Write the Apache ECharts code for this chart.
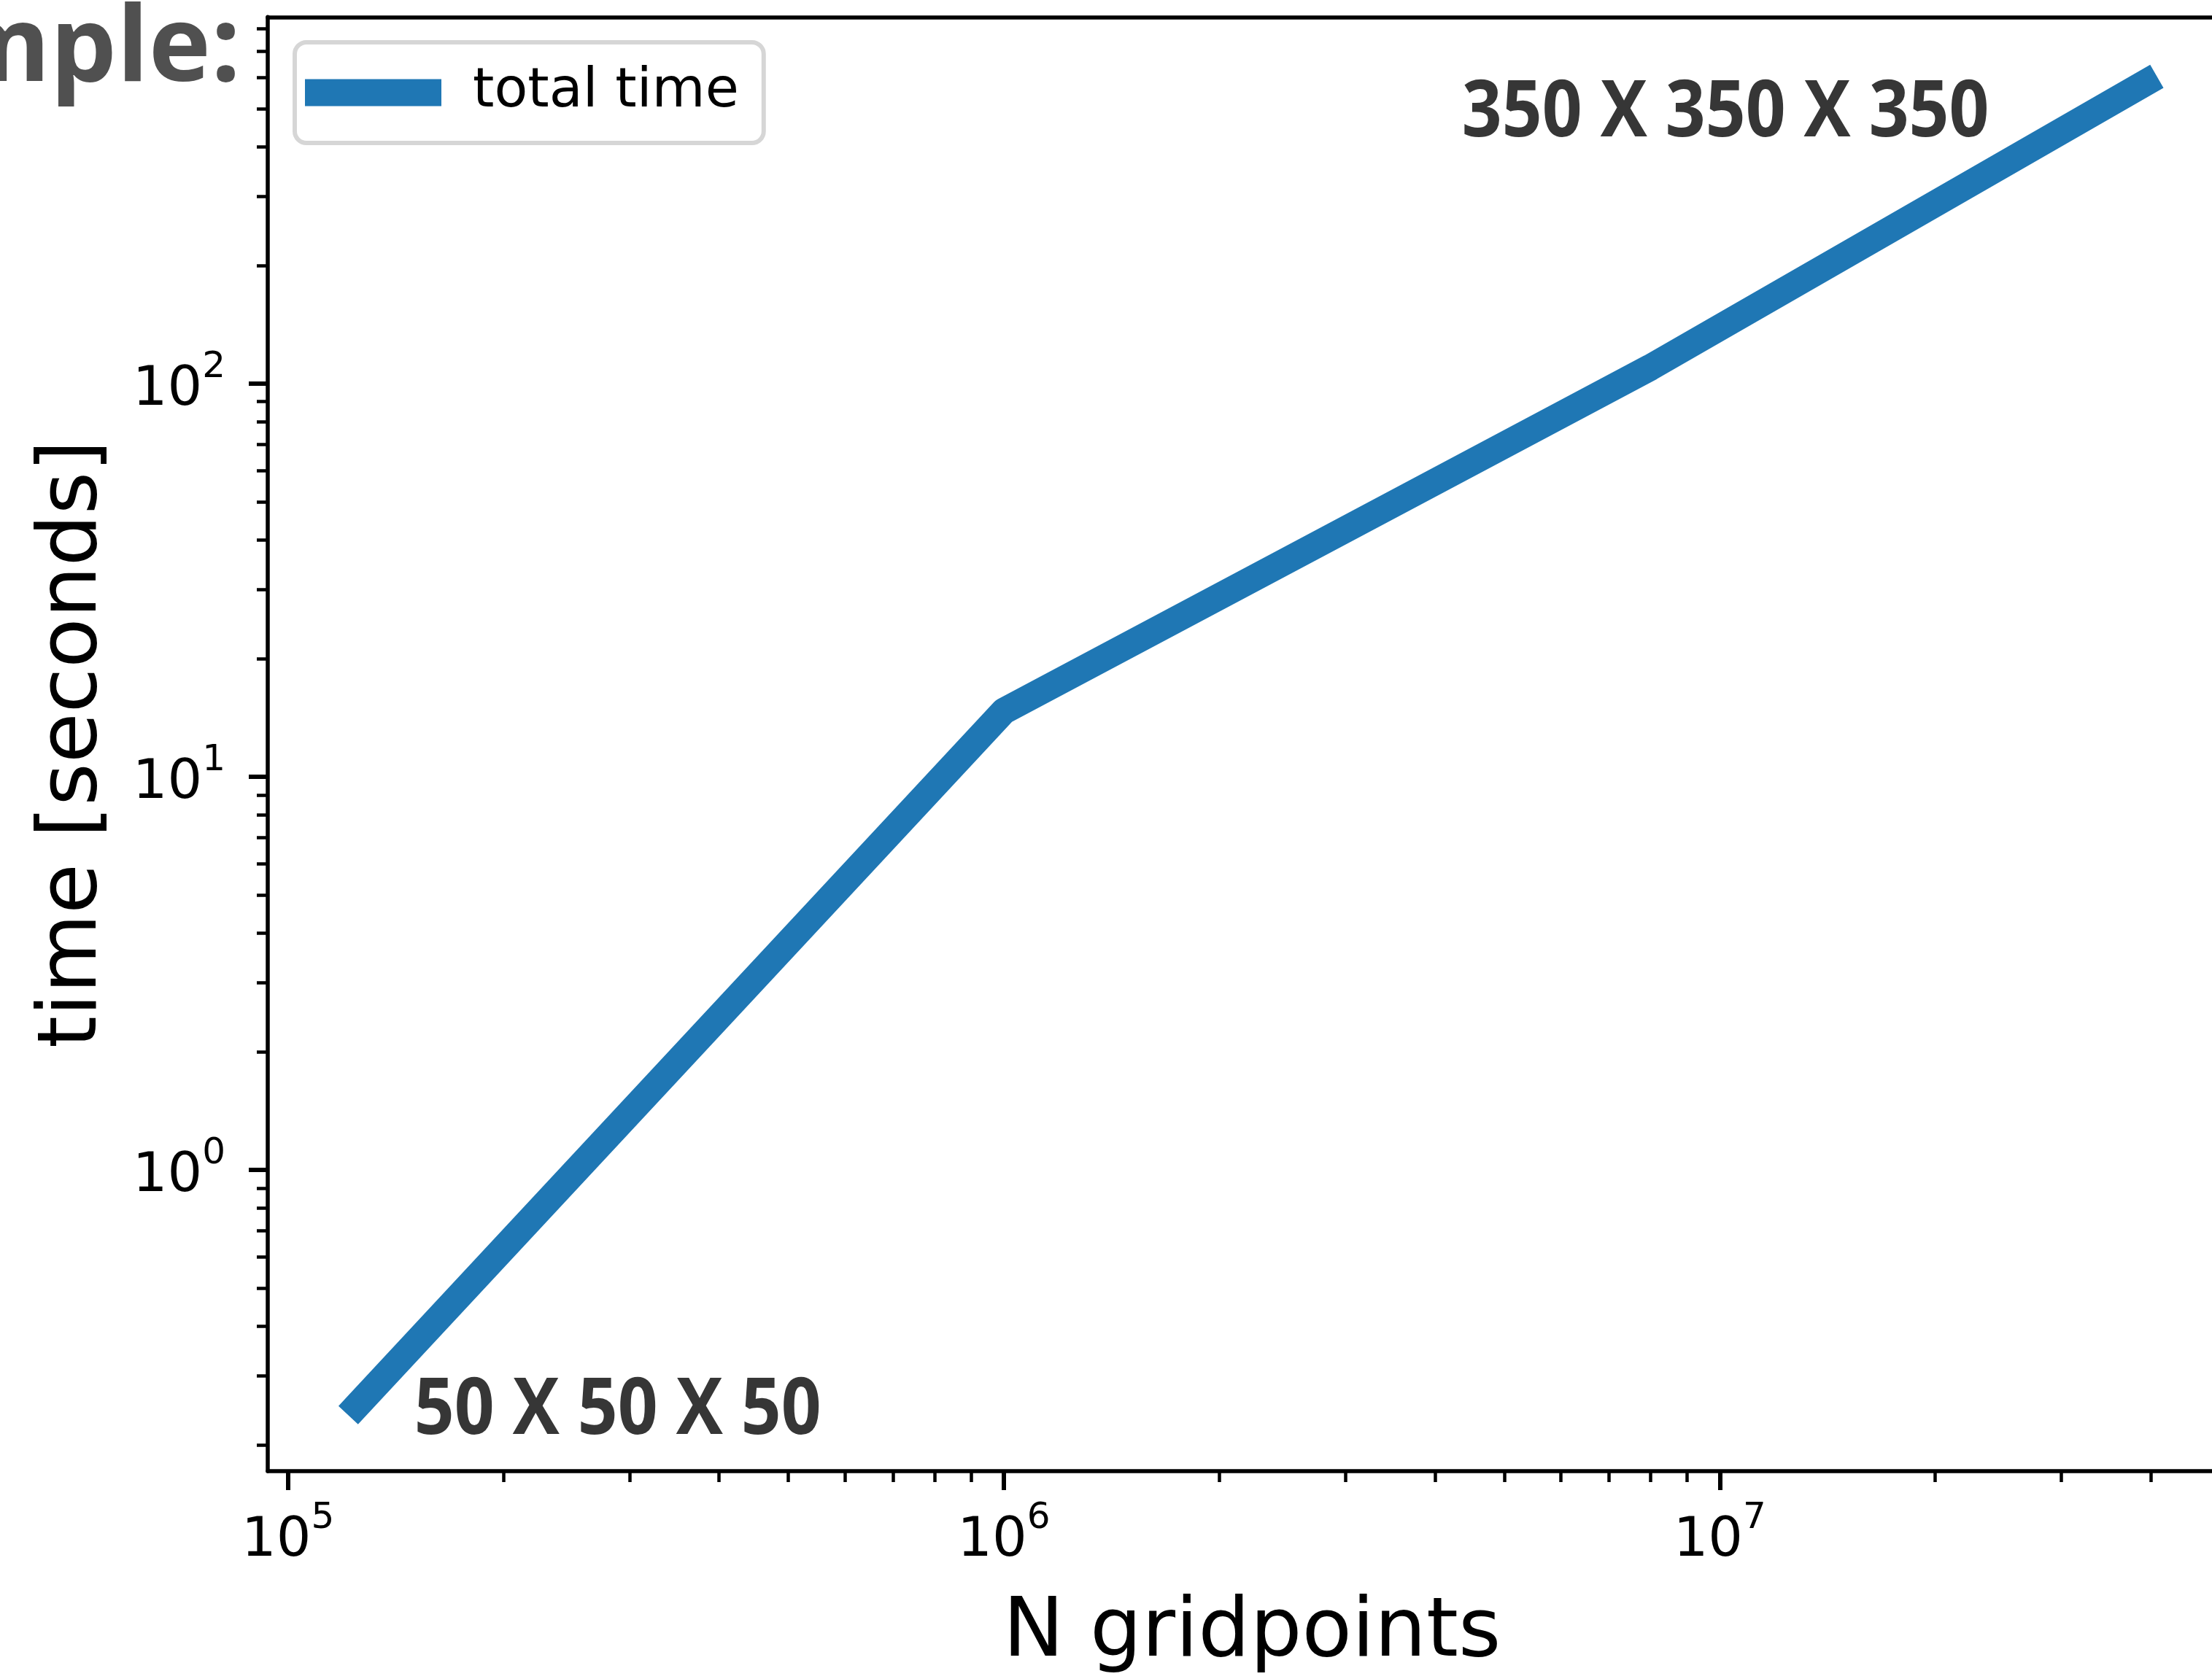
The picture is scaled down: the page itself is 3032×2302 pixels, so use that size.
<!DOCTYPE html>
<html>
<head>
<meta charset="utf-8">
<script src="https://cdn.jsdelivr.net/npm/echarts@6/dist/echarts.min.js"></script>
<style>
  html, body { margin: 0; padding: 0; background: #ffffff; }
  #chart { width: 3032px; height: 2302px; }
</style>
</head>
<body>
<div id="chart"></div>
<script>
// Scaling run: number of grid points (n^3) against total wall-clock time
const gridPoints = [125000, 1000000, 8000000, 39300000];
const totalTime = [0.252, 14.7, 110, 582];
const seriesName = 'total time';
const pointNotes = ['50 X 50 X 50', '', '', '350 X 350 X 350'];

// Axis extents and tick positions (log scale)
const xRange = [93700, 48710000];
const yRange = [0.1714, 856.5];
const xMajorTicks = [1e5, 1e6, 1e7];
const xMinorTicks = [2e5, 3e5, 4e5, 5e5, 6e5, 7e5, 8e5, 9e5,
                     2e6, 3e6, 4e6, 5e6, 6e6, 7e6, 8e6, 9e6,
                     2e7, 3e7, 4e7];
const yMajorTicks = [1, 10, 100];
const yMinorTicks = [0.2, 0.3, 0.4, 0.5, 0.6, 0.7, 0.8, 0.9,
                     2, 3, 4, 5, 6, 7, 8, 9,
                     20, 30, 40, 50, 60, 70, 80, 90,
                     200, 300, 400, 500, 600, 700, 800];

const BLUE = '#1f77b4';
const TICK_FONT = 'DejaVu Sans';

const chart = echarts.init(document.getElementById('chart'), null, { renderer: 'canvas' });

// "10^k" labels drawn as base + raised exponent
const powerLabel = {
  formatter: function (v) {
    const e = Math.round(Math.log10(v));
    return '{b|10}{s|' + e + '}';
  },
  rich: {
    b: { fontFamily: TICK_FONT, fontSize: 75, lineHeight: 94, color: '#000', verticalAlign: 'bottom' },
    s: { fontFamily: TICK_FONT, fontSize: 50, lineHeight: 50, color: '#000', verticalAlign: 'top' }
  }
};

const spine = { show: true, onZero: false, lineStyle: { color: '#000', width: 5.5 } };

const option = {
  animation: false,
  backgroundColor: '#ffffff',
  // the plotting area runs on past the right edge of the page
  grid: { left: 367, top: 23.3, right: 0, bottom: 271.3, containLabel: false },
  legend: {
    data: [{ name: seriesName, icon: 'rect' }],
    left: 404,
    top: 58,
    itemWidth: 187,
    itemHeight: 37,
    padding: [29, 34, 29, 14],
    backgroundColor: '#ffffff',
    borderColor: '#d6d6d6',
    borderWidth: 6,
    borderRadius: 16,
    selectedMode: false,
    textStyle: {
      fontFamily: TICK_FONT, fontSize: 75, lineHeight: 80, color: '#000',
      padding: [0, 0, 0, 38]
    }
  },
  xAxis: [
    {
      type: 'log', logBase: 10, min: xRange[0], max: xRange[1], position: 'bottom',
      axisLine: spine,
      axisTick: { show: true, customValues: xMajorTicks, length: 26, lineStyle: { color: '#000', width: 6 } },
      axisLabel: Object.assign({ show: true, customValues: xMajorTicks, margin: 40 }, powerLabel),
      splitLine: { show: false },
      name: 'N gridpoints',
      nameLocation: 'middle',
      nameGap: 168,
      nameMoveOverlap: false,
      nameTextStyle: {
        fontFamily: TICK_FONT, fontSize: 112, lineHeight: 112, color: '#000',
        padding: [0, 0, 0, 33]
      }
    },
    {
      type: 'log', logBase: 10, min: xRange[0], max: xRange[1], position: 'bottom',
      axisLine: { show: false },
      axisTick: { show: true, customValues: xMinorTicks, length: 15, lineStyle: { color: '#000', width: 4.5 } },
      axisLabel: { show: false },
      splitLine: { show: false }
    },
    {
      type: 'log', logBase: 10, min: xRange[0], max: xRange[1], position: 'top',
      axisLine: spine,
      axisTick: { show: false },
      axisLabel: { show: false },
      splitLine: { show: false }
    }
  ],
  yAxis: [
    {
      type: 'log', logBase: 10, min: yRange[0], max: yRange[1], position: 'left',
      axisLine: spine,
      axisTick: { show: true, customValues: yMajorTicks, length: 26, lineStyle: { color: '#000', width: 6 } },
      axisLabel: Object.assign({ show: true, customValues: yMajorTicks, margin: 58 }, powerLabel),
      splitLine: { show: false },
      name: 'time [seconds]',
      nameLocation: 'middle',
      nameGap: 209,
      nameMoveOverlap: false,
      nameTextStyle: { fontFamily: TICK_FONT, fontSize: 112, lineHeight: 112, color: '#000' }
    },
    {
      type: 'log', logBase: 10, min: yRange[0], max: yRange[1], position: 'left',
      axisLine: { show: false },
      axisTick: { show: true, customValues: yMinorTicks, length: 15, lineStyle: { color: '#000', width: 4.5 } },
      axisLabel: { show: false },
      splitLine: { show: false }
    }
  ],
  series: [
    {
      type: 'line',
      name: seriesName,
      xAxisIndex: 0,
      yAxisIndex: 0,
      data: gridPoints.map((x, i) => [x, totalTime[i]]),
      showSymbol: false,
      symbol: 'none',
      clip: false,
      itemStyle: { color: BLUE },
      lineStyle: { color: BLUE, width: 36.6, cap: 'square', join: 'round' },
      z: 3
    },
    {
      // grid-size annotations next to the first and last runs
      type: 'custom',
      xAxisIndex: 0,
      yAxisIndex: 0,
      clip: false,
      silent: true,
      data: gridPoints.map((x, i) => [x, totalTime[i], i]).filter(d => pointNotes[d[2]] !== ''),
      renderItem: function (params, api) {
        const p = api.coord([api.value(0), api.value(1)]);
        const i = api.value(2);
        const first = i === 0;
        return {
          type: 'text',
          x: first ? p[0] + 78 : p[0] - 214,
          y: first ? p[1] + 8 : p[1] + 42,
          scaleX: 0.89,
          style: {
            text: pointNotes[i],
            fill: '#363636',
            font: 'bold 108px "Open Sans"',
            align: first ? 'left' : 'right',
            verticalAlign: 'middle'
          }
        };
      },
      z: 4
    }
  ],
  graphic: [
    {
      type: 'text',
      x: 330,
      y: 70,
      style: {
        text: 'Example:',
        fill: '#505050',
        font: 'bold 144px "Open Sans"',
        align: 'right',
        verticalAlign: 'middle'
      }
    }
  ]
};

chart.setOption(option);
</script>
</body>
</html>
